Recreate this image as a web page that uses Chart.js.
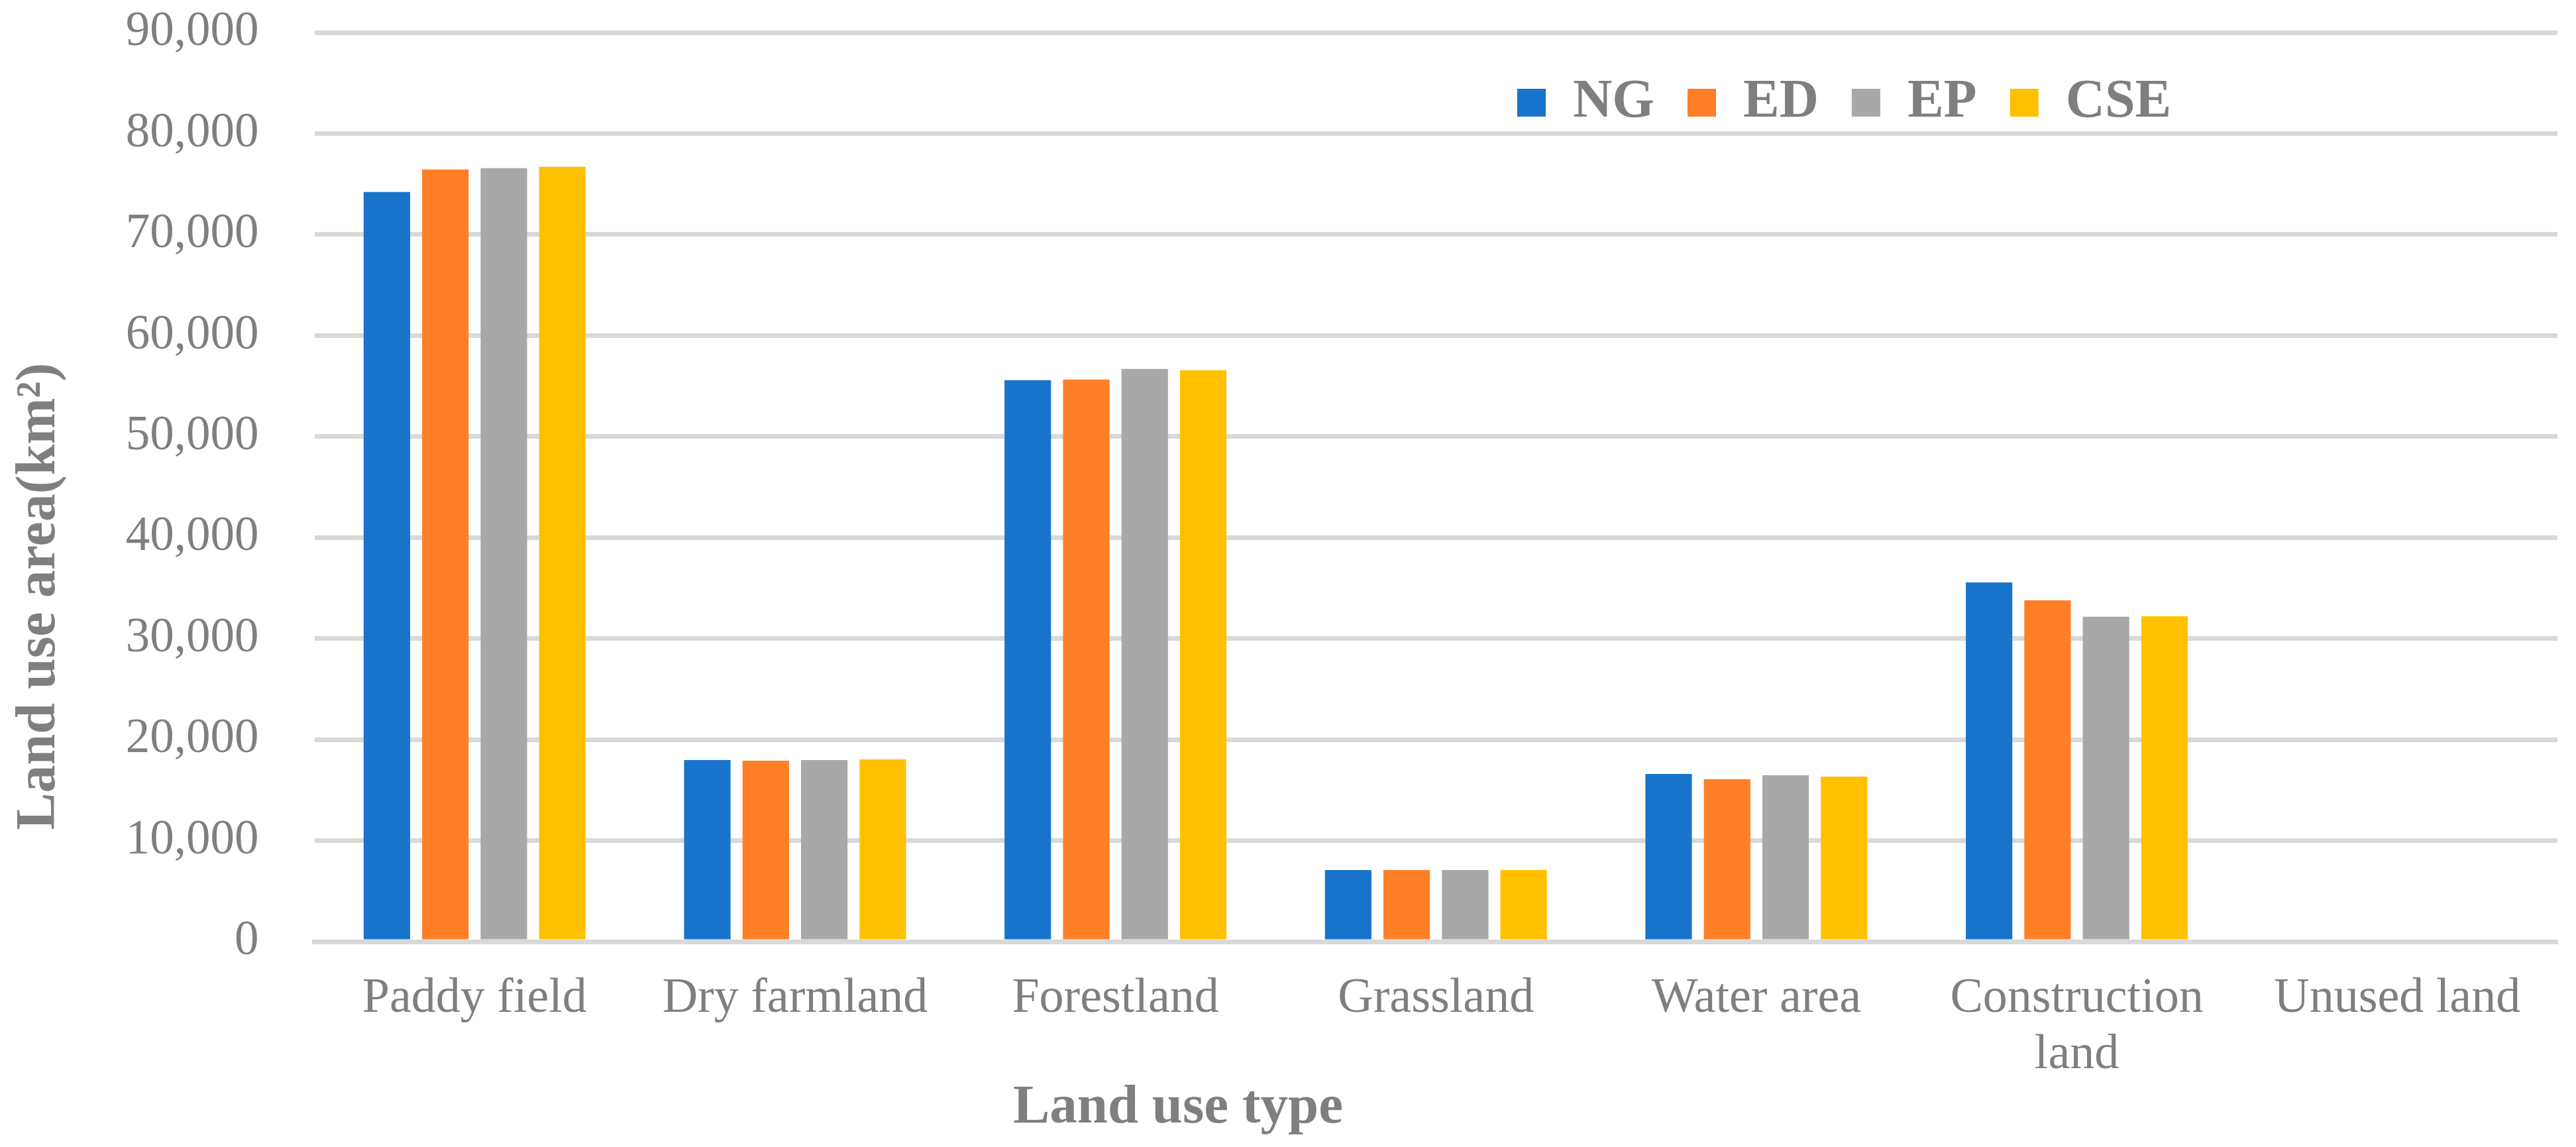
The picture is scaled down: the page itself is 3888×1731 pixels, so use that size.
<!DOCTYPE html>
<html>
<head>
<meta charset="utf-8">
<script src="https://cdn.jsdelivr.net/npm/chart.js@4.4.0/dist/chart.umd.min.js"></script>
<style>
  html, body { margin: 0; padding: 0; background: #ffffff; }
  #wrap { width: 3888px; height: 1731px; }
</style>
</head>
<body>
<div id="wrap"><canvas id="c" width="3888" height="1731"></canvas></div>
<script>
// ---- data ----
const categories = ['Paddy field', 'Dry farmland', 'Forestland', 'Grassland', 'Water area', ['Construction', 'land'], 'Unused land'];
const seriesNames = ['NG', 'ED', 'EP', 'CSE'];
const ngValues  = [74213, 17979, 55577, 7087, 16601, 35549, 0];
const edValues  = [76444, 17913, 55643, 7087, 16076, 33790, 0];
const epValues  = [76575, 17979, 56693, 7087, 16470, 32152, 0];
const cseValues = [76706, 18045, 56562, 7087, 16339, 32211, 0];
const yTickValues = [0, 10000, 20000, 30000, 40000, 50000, 60000, 70000, 80000, 90000];
const xTitle = 'Land use type';
const yTitle = 'Land use area(km\u00B2)';

// ---- styles ----
const seriesColors = ['#1874CB', '#FF7F27', '#A8A8A8', '#FFC000'];
const textGray = '#7f7f7f';
const gridGray = '#d9d9d9';
const serif = 'Liberation Serif';
const targetTop = 49.4;

const legendShift = {
  id: 'legendShift',
  beforeLayout(chart) {
    const lg = chart.legend;
    if (lg && !lg._noReserve) {
      const origFit = lg.fit;
      lg.fit = function () { origFit.call(this); this.height = 0; };
      lg._noReserve = true;
    }
  },
  afterLayout(chart) {
    const lg = chart.legend;
    if (!lg) return;
    const pad = lg.options.labels.padding;
    lg.left = 2290 - pad;
    lg.right = lg.left + 1550;
    lg.top = 64;
    lg.bottom = lg.top + 200;
  }
};

const axisTitles = {
  id: 'axisTitles',
  afterDraw(chart) {
    const ctx = chart.ctx;
    ctx.save();
    ctx.fillStyle = textGray;
    ctx.font = 'bold 83px "' + serif + '"';
    ctx.textAlign = 'center';
    ctx.textBaseline = 'alphabetic';
    ctx.fillText(xTitle, 1778, 1694);
    ctx.translate(82, 900);
    ctx.rotate(-Math.PI / 2);
    ctx.font = 'bold 84px "' + serif + '"';
    ctx.fillText(yTitle, 0, 0);
    ctx.restore();
  }
};

const valueSets = [ngValues, edValues, epValues, cseValues];
const datasets = seriesNames.map((name, i) => ({
  label: name,
  data: valueSets[i],
  backgroundColor: seriesColors[i],
  borderWidth: 0,
  categoryPercentage: 0.73,
  barPercentage: 0.795
}));

const chart = new Chart(document.getElementById('c'), {
  type: 'bar',
  data: { labels: categories, datasets: datasets },
  options: {
    responsive: false,
    devicePixelRatio: 1,
    animation: false,
    layout: { padding: { left: 189.5, right: 28, top: 49, bottom: 60 } },
    plugins: {
      tooltip: { enabled: false },
      title: { display: false },
      legend: {
        display: true,
        position: 'top',
        align: 'start',
        labels: {
          boxWidth: 43,
          boxHeight: 42,
          padding: 50,
          color: textGray,
          font: { family: serif, size: 82, weight: 'bold' }
        }
      }
    },
    scales: {
      x: {
        grid: { display: false, drawTicks: false },
        border: { display: true, color: gridGray, width: 7, z: 1 },
        ticks: {
          padding: 44,
          color: textGray,
          maxRotation: 0,
          autoSkip: false,
          font: { family: serif, size: 74, lineHeight: 1.15 }
        },
        afterFit: s => { s.height = 250; }
      },
      y: {
        min: 0,
        max: 90000,
        afterBuildTicks: s => { s.ticks = yTickValues.map(v => ({ value: v })); },
        ticks: {
          padding: 0,
          color: textGray,
          font: { family: serif, size: 73 },
          callback: v => Number(v).toLocaleString('en-US')
        },
        grid: { color: gridGray, lineWidth: 7, drawTicks: true, tickLength: 84, tickColor: 'rgba(0,0,0,0)' },
        border: { display: false },
        afterFit: s => { s.width = 285; }
      }
    }
  },
  plugins: [legendShift, axisTitles]
});

// make sure the plot area top lands where the reference has it
const dy = chart.chartArea.top - targetTop;
if (Math.abs(dy) > 0.5) {
  chart.options.layout.padding.top -= dy;
  chart.update();
}
</script>
</body>
</html>
